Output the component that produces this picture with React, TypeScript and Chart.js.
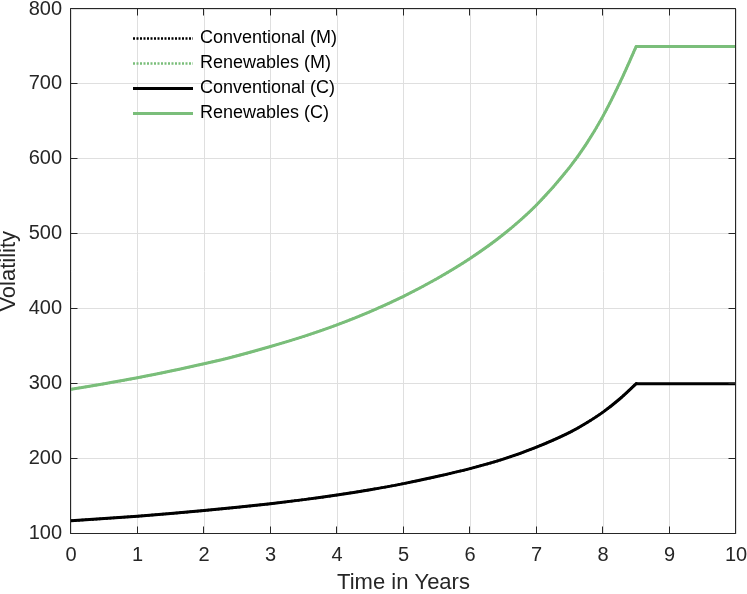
import { useEffect, useRef } from "react";
import { Chart, registerables } from "chart.js";

Chart.register(...registerables);

// ---- data ----
// rising part of each curve (up to the cap at 8.5 years)
const years = [0, 0.5, 1, 1.5, 2, 2.5, 3, 3.5, 4, 4.5, 5, 5.5, 6, 6.5, 7, 7.5, 7.75, 8, 8.25, 8.5];
const conventionalC = [117, 119.9, 123.1, 126.7, 130.6, 134.9, 139.8, 145.2, 151.4, 158.5, 166.6, 176, 186.6, 199.2, 215.3, 235, 247.5, 262, 279.5, 300];
const renewablesC = [292.5, 299.8, 307.8, 316.8, 326.5, 337.3, 349.5, 363, 378.5, 396.2, 416.5, 440, 467, 499, 538.5, 589, 620, 657, 701, 750];
const conventionalM = [117, 119.9, 123.1, 126.7, 130.6, 134.9, 139.8, 145.2, 151.4, 158.5, 166.6, 176, 186.6, 199.2, 215.3, 235, 247.5, 262, 279.5, 300];
const renewablesM = [292.5, 299.8, 307.8, 316.8, 326.5, 337.3, 349.5, 363, 378.5, 396.2, 416.5, 440, 467, 499, 538.5, 589, 620, 657, 701, 750];
// flat part after the cap
const capYears = [8.5, 9, 9.5, 10];
const conventionalCap = [300, 300, 300, 300];
const renewablesCap = [750, 750, 750, 750];

const seriesLabels = ["Conventional (M)", "Renewables (M)", "Conventional (C)", "Renewables (C)"];
const xTicks = [0, 1, 2, 3, 4, 5, 6, 7, 8, 9, 10];
const yTicks = [100, 200, 300, 400, 500, 600, 700, 800];
const xTitle = "Time in Years";
const yTitle = "Volatility";

// ---- styles ----
const AXIS = "#262626";
const GRID = "#dfdfdf";
const BLACK = "#000000";
const GREEN = "rgb(122,190,122)";
const FONT = "'Liberation Sans', Arial, Helvetica, sans-serif";
const DOTTED = [2, 1.5];

const pts = (xs: number[], ys: number[]) => xs.map((x, i) => ({ x, y: ys[i] }));

const legendItems = [
  { label: seriesLabels[0], color: BLACK, dash: DOTTED },
  { label: seriesLabels[1], color: GREEN, dash: DOTTED },
  { label: seriesLabels[2], color: BLACK, dash: [] as number[] },
  { label: seriesLabels[3], color: GREEN, dash: [] as number[] },
];

const boxPlugin = {
  id: "matlabBox",
  afterDraw(chart: any) {
    const { ctx, chartArea: a, scales } = chart;
    const xs = scales.x;
    const ys = scales.y;
    const L = Math.round(a.left) - 0.5;
    const R = Math.round(a.right) - 0.5;
    const T = Math.round(a.top) - 0.5;
    const B = Math.round(a.bottom) - 0.5;
    const tl = 7;
    ctx.save();
    ctx.strokeStyle = AXIS;
    ctx.lineWidth = 1;
    ctx.beginPath();
    ctx.rect(L, T, R - L, B - T);
    xTicks.forEach((v) => {
      const px = Math.round(xs.getPixelForValue(v)) - 0.5;
      ctx.moveTo(px, B);
      ctx.lineTo(px, B - tl);
      ctx.moveTo(px, T);
      ctx.lineTo(px, T + tl);
    });
    yTicks.forEach((v) => {
      const py = Math.round(ys.getPixelForValue(v)) - 0.5;
      ctx.moveTo(L, py);
      ctx.lineTo(L + tl, py);
      ctx.moveTo(R, py);
      ctx.lineTo(R - tl, py);
    });
    ctx.stroke();

    // legend (MATLAB style, inside the axes, no box)
    const x0 = a.left + 62;
    const x1 = a.left + 122;
    const tx = a.left + 129;
    ctx.font = `18px ${FONT}`;
    ctx.textBaseline = "middle";
    ctx.textAlign = "left";
    legendItems.forEach((it, i) => {
      const y = a.top + 29.5 + i * 25;
      ctx.beginPath();
      ctx.strokeStyle = it.color;
      ctx.lineWidth = it.dash.length ? 2.5 : 3;
      ctx.setLineDash(it.dash);
      ctx.moveTo(x0, y);
      ctx.lineTo(x1, y);
      ctx.stroke();
      ctx.setLineDash([]);
      ctx.fillStyle = "#000000";
      ctx.fillText(it.label, tx, y);
    });
    ctx.restore();
  },
};

export default function App() {
  const ref = useRef<HTMLCanvasElement | null>(null);

  useEffect(() => {
    if (!ref.current) return;
    const base = {
      fill: false,
      pointRadius: 0,
      cubicInterpolationMode: "monotone" as const,
      borderCapStyle: "round" as const,
      borderJoinStyle: "round" as const,
    };
    const chart = new Chart(ref.current, {
      type: "line",
      data: {
        datasets: [
          { ...base, label: seriesLabels[0], data: pts(years, conventionalM), borderColor: BLACK, borderWidth: 2.5, borderDash: DOTTED, borderCapStyle: "butt" as const },
          { ...base, label: seriesLabels[1], data: pts(years, renewablesM), borderColor: GREEN, borderWidth: 2.5, borderDash: DOTTED, borderCapStyle: "butt" as const },
          { ...base, label: seriesLabels[2], data: pts(years, conventionalC), borderColor: BLACK, borderWidth: 3 },
          { ...base, label: seriesLabels[3], data: pts(years, renewablesC), borderColor: GREEN, borderWidth: 3 },
          { ...base, label: seriesLabels[2] + " cap", data: pts(capYears, conventionalCap), borderColor: BLACK, borderWidth: 3 },
          { ...base, label: seriesLabels[3] + " cap", data: pts(capYears, renewablesCap), borderColor: GREEN, borderWidth: 3 },
        ],
      },
      options: {
        responsive: false,
        animation: false,
        layout: { padding: { top: 9, right: 11, left: 0, bottom: 0 } },
        plugins: { legend: { display: false }, tooltip: { enabled: false } },
        scales: {
          x: {
            type: "linear",
            min: 0,
            max: 10,
            afterFit: (s: any) => {
              s.height = 60.5;
              s.paddingLeft = 0;
              s.paddingRight = 0;
            },
            afterBuildTicks: (s: any) => {
              s.ticks = xTicks.map((v) => ({ value: v }));
            },
            grid: { color: GRID, drawTicks: false, lineWidth: 1 },
            border: { display: false },
            ticks: { padding: 10, color: AXIS, font: { family: FONT, size: 20 }, maxRotation: 0, autoSkip: false },
            title: { display: true, text: xTitle, color: AXIS, font: { family: FONT, size: 22, lineHeight: 1 }, padding: 0 },
          },
          y: {
            type: "linear",
            min: 100,
            max: 800,
            afterFit: (s: any) => {
              s.width = 71;
              s.paddingTop = 0;
              s.paddingBottom = 0;
            },
            afterBuildTicks: (s: any) => {
              s.ticks = yTicks.map((v) => ({ value: v }));
            },
            grid: { color: GRID, drawTicks: false, lineWidth: 1 },
            border: { display: false },
            ticks: { padding: 9, color: AXIS, font: { family: FONT, size: 20 }, autoSkip: false },
            title: { display: true, text: yTitle, color: AXIS, font: { family: FONT, size: 22, lineHeight: 0.78 }, padding: 0 },
          },
        },
      },
      plugins: [boxPlugin],
    });
    return () => chart.destroy();
  }, []);

  return (
    <div style={{ position: "absolute", left: 0, top: 0, width: 747, height: 594, background: "#fff" }}>
      <canvas ref={ref} width={747} height={594} style={{ width: 747, height: 594, display: "block" }} />
    </div>
  );
}
